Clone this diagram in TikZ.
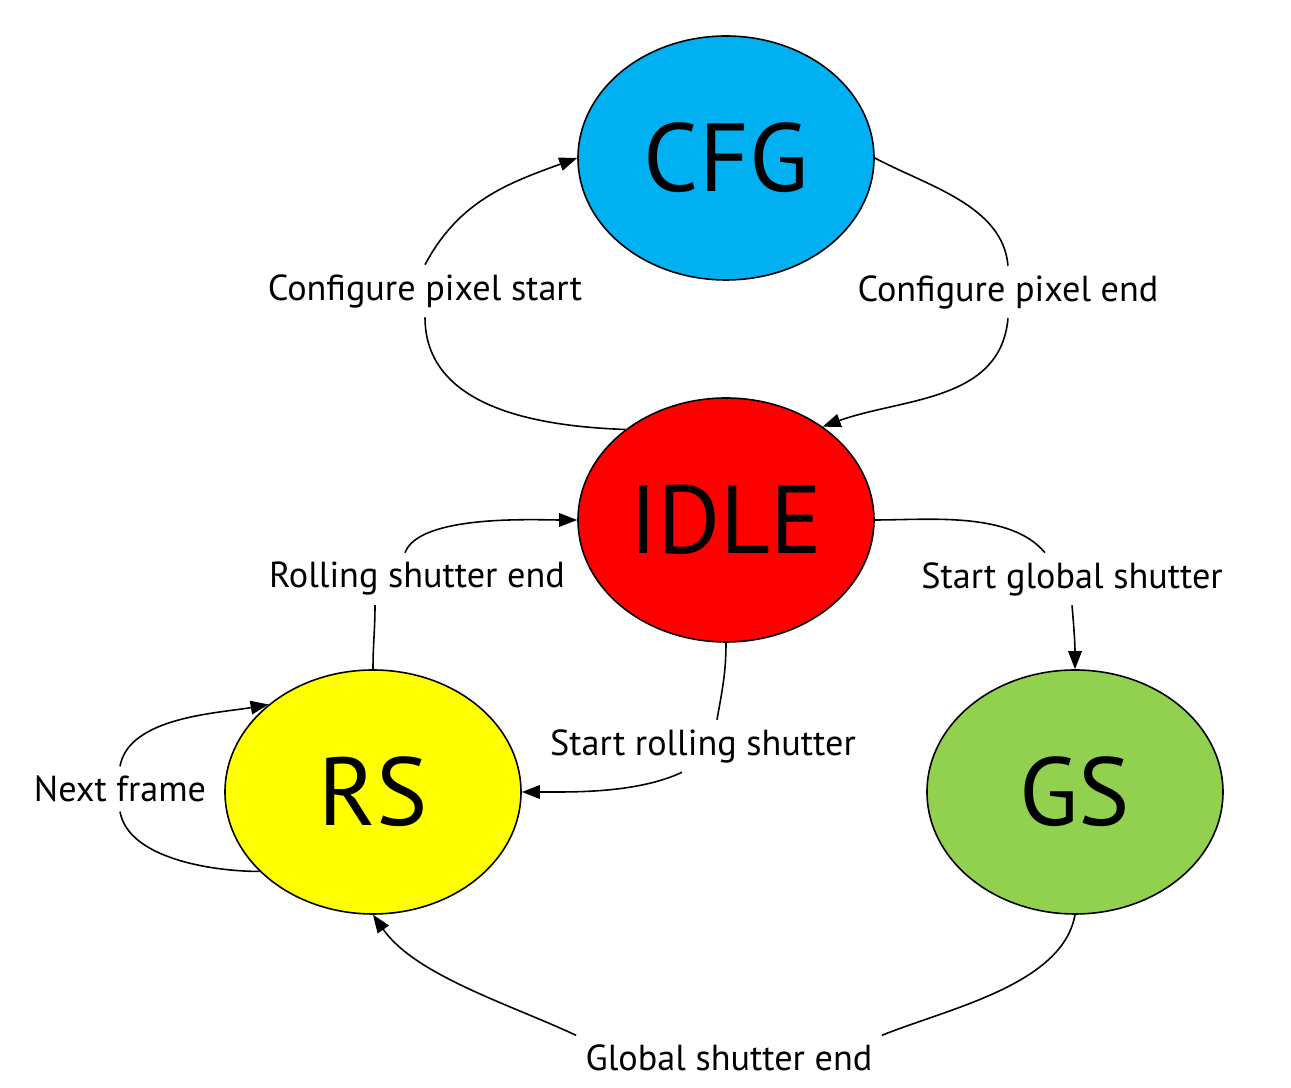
\documentclass[tikz,border=0pt]{standalone}
\usepackage{fontspec}
\setmainfont{PT Sans}
\usetikzlibrary{shapes.geometric}
\usetikzlibrary{arrows.meta}
\definecolor{cfgblue}{RGB}{0,176,240}
\definecolor{idlered}{RGB}{255,0,0}
\definecolor{rsyellow}{RGB}{255,255,0}
\definecolor{gsgreen}{RGB}{146,208,80}

\begin{document}
\begin{tikzpicture}[x=0.1mm, y=-0.1mm, line width=0.45pt,
  state/.style={ellipse, draw, minimum width=29.6mm, minimum height=24.4mm,
                inner sep=0pt, font=\fontsize{27.5}{30}\selectfont},
  trans/.style={inner sep=2.5pt, font=\fontsize{10.3}{12}\selectfont},
  >={Triangle[length=1.8mm,width=1.35mm]}]

\useasboundingbox (0,0) rectangle (1291,1088);

%---------------------------------------
% States
%---------------------------------------
\node[state, fill=cfgblue]  (cfg)  at (726,158)  {CFG};
\node[state, fill=idlered]  (idle) at (726,520)  {IDLE};
\node[state, fill=rsyellow] (rs)   at (373,792)  {RS};
\node[state, fill=gsgreen]  (gs)   at (1075,792) {GS};

%---------------------------------------
% Transition labels
%---------------------------------------
\node[trans] (cfgstart) at (425,291)  {Configure pixel start};
\node[trans] (cfgend)   at (1008,292) {Configure pixel end};
\node[trans] (rsend)    at (417,579)  {Rolling shutter end};
\node[trans] (rsstart)  at (703,746)  {Start rolling shutter};
\node[trans] (gsstart)  at (1072,579) {Start global shutter};
\node[trans] (gsend)    at (729,1058) {Global shutter end};
\node[trans] (nextfr)   at (120,789)  {Next frame};

%---------------------------------------
% Transitions
%---------------------------------------
% IDLE -> CFG
\draw (idle.138) to[out=178, in=-90] (cfgstart.south);
\draw[->] (cfgstart.north) to[out=62, in=200] (cfg.west);

% CFG -> IDLE
\draw (cfg.east) to[out=-28, in=95, looseness=0.9] (cfgend.north);
\draw[->] (cfgend.south) to[out=-95, in=20] (idle.44);

% RS -> IDLE
\draw (rs.north) to[out=90, in=-90] ([xshift=-4.2mm]rsend.south);
\draw[->] ([xshift=-1.2mm]rsend.north) to[out=70, in=180, looseness=0.6] (idle.west);

% IDLE -> RS
\draw (idle.south) to[out=-90, in=80] ([xshift=1.4mm]rsstart.north);
\draw[->] ([xshift=-2.1mm]rsstart.south) to[out=205, in=0, looseness=0.8] (rs.east);

% IDLE -> GS
\draw (idle.east) to[out=0, in=130, looseness=0.8] ([xshift=-2.7mm]gsstart.north);
\draw[->] (gsstart.south) to[out=-85, in=90] (gs.north);

% GS -> RS
\draw (gs.south) to[out=-100, in=22, looseness=0.8] (gsend.north east);
\draw[->] (gsend.north west) to[out=155, in=-55, looseness=0.8] (rs.south);

% RS -> RS
\draw (rs.215) to[out=180, in=-80, looseness=0.8] (nextfr.south);
\draw[->] (nextfr.north) to[out=80, in=190, looseness=0.8] (rs.140);

\end{tikzpicture}
\end{document}
